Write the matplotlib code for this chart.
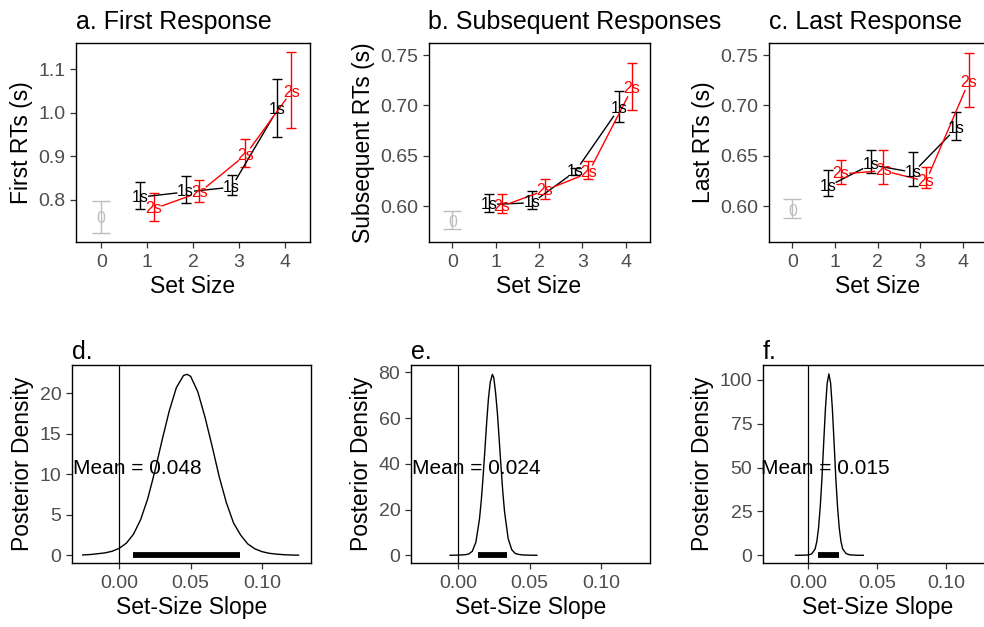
import numpy as np
import matplotlib.pyplot as plt

plt.rcParams['font.family'] = ['Liberation Sans', 'DejaVu Sans']

# ---- top row data: RTs by set size ----
set_sizes = [1, 2, 3, 4]
titles_top = ['a. First Response', 'b. Subsequent Responses', 'c. Last Response']
ylabels_top = ['First RTs (s)', 'Subsequent RTs (s)', 'Last RTs (s)']

zero_mean = [0.757, 0.5836, 0.595]
zero_lo = [0.723, 0.577, 0.5885]
zero_hi = [0.797, 0.595, 0.6073]

one_mean = [[0.806, 0.818, 0.829, 1.008],
            [0.6017, 0.6034, 0.6346, 0.6966],
            [0.6198, 0.6412, 0.6336, 0.6769]]
one_lo = [[0.778, 0.792, 0.811, 0.945],
          [0.594, 0.5975, 0.631, 0.684],
          [0.6099, 0.633, 0.6198, 0.6653]]
one_hi = [[0.840, 0.855, 0.856, 1.078],
          [0.6126, 0.6148, 0.638, 0.7144],
          [0.6356, 0.656, 0.6534, 0.694]]

two_mean = [[0.779, 0.817, 0.903, 1.048],
            [0.600, 0.6158, 0.633, 0.7164],
            [0.632, 0.6353, 0.6247, 0.723]]
two_lo = [[0.751, 0.795, 0.875, 0.965],
          [0.5935, 0.6073, 0.6274, 0.6956],
          [0.6225, 0.6222, 0.6182, 0.6983]]
two_hi = [[0.815, 0.845, 0.941, 1.141],
          [0.6123, 0.627, 0.6445, 0.7425],
          [0.6462, 0.656, 0.639, 0.7523]]

ylims_top = [(0.704, 1.161), (0.565, 0.762), (0.565, 0.762)]
yticks_top = [[0.8, 0.9, 1.0, 1.1], [0.60, 0.65, 0.70, 0.75], [0.60, 0.65, 0.70, 0.75]]
yfmt_top = ['{:.1f}', '{:.2f}', '{:.2f}']

# ---- bottom row data: posterior of set-size slope ----
titles_bot = ['d.', 'e.', 'f.']
d_x = [-0.0255, -0.02, -0.015, -0.01, -0.005, 0.0, 0.005, 0.01, 0.015, 0.02, 0.025,
       0.03, 0.035, 0.04, 0.045, 0.0475, 0.05, 0.055, 0.06, 0.065, 0.07, 0.075, 0.08,
       0.085, 0.09, 0.095, 0.10, 0.105, 0.11, 0.115, 0.12, 0.1255]
d_y = [0.05, 0.1, 0.2, 0.3, 0.5, 0.86, 1.5, 2.6, 4.4, 7.0, 10.4,
       14.2, 17.8, 20.7, 22.2, 22.35, 22.1, 20.2, 17.1, 13.5, 9.7, 6.5, 4.0,
       2.5, 1.4, 0.8, 0.45, 0.25, 0.15, 0.08, 0.04, 0.02]
e_x = [-0.0055, 0.0, 0.0025, 0.005, 0.0075, 0.01, 0.0125, 0.015, 0.01625, 0.0175,
       0.01875, 0.02, 0.02125, 0.0225, 0.024, 0.025, 0.02625, 0.0275, 0.02875, 0.03,
       0.03125, 0.0325, 0.035, 0.0375, 0.04, 0.0425, 0.045, 0.05, 0.055]
e_y = [0.05, 0.1, 0.2, 0.3, 0.6, 1.8, 5.8, 15.9, 24.0, 34.2, 45.8, 57.9, 68.5, 75.6,
       79.1, 77.6, 71.0, 62.2, 50.8, 38.9, 28.0, 19.0, 7.4, 2.5, 0.8, 0.4, 0.2, 0.08, 0.03]
f_x = [-0.0092, -0.005, 0.0, 0.0025, 0.005, 0.00625, 0.0075, 0.00875, 0.01, 0.01125,
       0.0125, 0.01375, 0.015, 0.01625, 0.0175, 0.01875, 0.02, 0.02125, 0.0225,
       0.02375, 0.025, 0.0275, 0.03, 0.035, 0.0399]
f_y = [0.03, 0.05, 0.2, 0.8, 3.6, 7.9, 15.6, 27.9, 44.2, 64.5,
       83.8, 98.1, 103.4, 98.1, 83.8, 64.5, 44.2, 27.9, 15.6,
       7.9, 3.6, 1.0, 0.3, 0.05, 0.02]
dens_x = [d_x, e_x, f_x]
dens_y = [d_y, e_y, f_y]
slope_means = [0.048, 0.024, 0.015]
hdi_lo = [0.0094, 0.0137, 0.0068]
hdi_hi = [0.0847, 0.0345, 0.0226]
mean_label_y = [10.7, 38.0, 49.6]
ylims_bot = [(-0.91, 23.5), (-3.2, 83.2), (-4.2, 108.5)]
yticks_bot = [[0, 5, 10, 15, 20], [0, 20, 40, 60, 80], [0, 25, 50, 75, 100]]

W, H = 984, 627
fig = plt.figure(figsize=(W / 100, H / 100), dpi=100)

def px_axes(left, right, top, bottom):
    return fig.add_axes([left / W, 1 - bottom / H, (right - left) / W, (bottom - top) / H])

top_boxes = [(76, 310, 43, 241.5), (428.5, 649.5, 43, 241.5), (769, 986, 43, 241.5)]
bot_boxes = [(72, 310.7, 365, 562.7), (410.7, 650, 365, 562.7), (762.7, 993, 365, 562.7)]

TICK_GREY = '#4D4D4D'

def style(ax):
    for s in ax.spines.values():
        s.set_linewidth(1.0)
        s.set_color('black')
    ax.tick_params(direction='out', length=4, width=0.9, color='#333333',
                   labelcolor=TICK_GREY, labelsize=14)
    ax.tick_params(axis='x', pad=5)

def gapped_line(ax, xs, ys, color, gap=9):
    pts = ax.transData.transform(np.column_stack([xs, ys]))
    inv = ax.transData.inverted()
    for p0, p1 in zip(pts[:-1], pts[1:]):
        d = p1 - p0
        n = np.hypot(*d)
        if n <= 2 * gap:
            continue
        u = d / n
        a = inv.transform(p0 + u * gap)
        b = inv.transform(p1 - u * gap)
        ax.plot([a[0], b[0]], [a[1], b[1]], color=color, lw=1.0)

def errbar(ax, x, lo, hi, color, cap):
    ax.errorbar([x], [(lo + hi) / 2], yerr=[[(hi - lo) / 2], [(hi - lo) / 2]],
                fmt='none', ecolor=color, elinewidth=1.0, capsize=cap, capthick=1.0)

for i in range(3):
    ax = px_axes(*top_boxes[i])
    style(ax)
    ax.set_xlim(-0.55, 4.55)
    ax.set_ylim(*ylims_top[i])
    ax.set_xticks([0, 1, 2, 3, 4])
    ax.set_yticks(yticks_top[i])
    ax.set_yticklabels([yfmt_top[i].format(v) for v in yticks_top[i]])
    x1 = [s - 0.16 for s in set_sizes]
    x2 = [s + 0.14 for s in set_sizes]
    errbar(ax, 0, zero_lo[i], zero_hi[i], '#BEBEBE', 6.5)
    for j in range(4):
        errbar(ax, x1[j], one_lo[i][j], one_hi[i][j], 'black', 3.3)
        errbar(ax, x2[j], two_lo[i][j], two_hi[i][j], '#FF0000', 3.3)
    gapped_line(ax, x1, one_mean[i], 'black')
    gapped_line(ax, x2, two_mean[i], '#FF0000')
    ax.text(0, zero_mean[i], '0', color='#BEBEBE', ha='center', va='center', fontsize=11.5)
    for j in range(4):
        ax.text(x1[j], one_mean[i][j], '1s', color='black', ha='center', va='center', fontsize=11.5)
        ax.text(x2[j], two_mean[i][j], '2s', color='#FF0000', ha='center', va='center', fontsize=11.5)
    ax.set_xlabel('Set Size', fontsize=16.5, labelpad=3)
    ax.set_ylabel(ylabels_top[i], fontsize=16.5, labelpad=4)
    ax.set_title(titles_top[i], fontsize=18, loc='left', pad=10)

for i in range(3):
    ax = px_axes(*bot_boxes[i])
    style(ax)
    ax.set_xlim(-0.033, 0.134)
    ax.set_ylim(*ylims_bot[i])
    ax.set_xticks([0.0, 0.05, 0.10])
    ax.set_xticklabels(['0.00', '0.05', '0.10'])
    ax.set_yticks(yticks_bot[i])
    ax.axvline(0, color='black', lw=0.9)
    ax.plot(dens_x[i], dens_y[i], color='black', lw=1.0)
    ax.plot([hdi_lo[i], hdi_hi[i]], [0, 0], color='black', lw=4.2, solid_capstyle='butt')
    ax.text(0.0125, mean_label_y[i], 'Mean = {:.3f}'.format(slope_means[i]),
            ha='center', va='center', fontsize=15)
    ax.set_xlabel('Set-Size Slope', fontsize=16.5, labelpad=3)
    ax.set_ylabel('Posterior Density', fontsize=16.5, labelpad=4)
    ax.set_title(titles_bot[i], fontsize=18, loc='left', pad=4.5)

fig.savefig('out.png', dpi=100)
